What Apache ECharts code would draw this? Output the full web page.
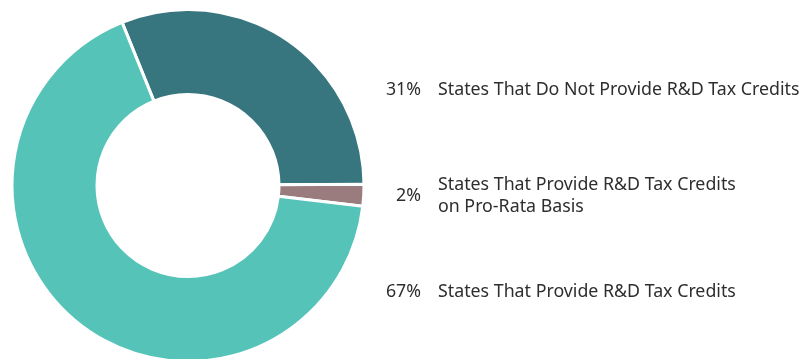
<!DOCTYPE html>
<html>
<head>
<meta charset="utf-8">
<style>
  html, body { margin: 0; padding: 0; background: #fff; }
  #chart { width: 809px; height: 359px; }
</style>
<script src="https://cdn.jsdelivr.net/npm/echarts@6/dist/echarts.min.js"></script>
</head>
<body>
<div id="chart"></div>
<script>
// Share of states by R&D tax credit treatment
const categories = [
  'States That Do Not Provide R&D Tax Credits',
  'States That Provide R&D Tax Credits\non Pro-Rata Basis',
  'States That Provide R&D Tax Credits'
];
const shares = [31, 2, 67];
const colors = ['#37767F', '#9A7C7F', '#55C3B8'];

const FONT = '"Noto Sans", "Open Sans", sans-serif';
const TEXT_COLOR = '#2e2e2e';
const FONT_SIZE = 17.8;
const LINE_H = 22;
// vertical centre of each label block
const labelCenters = [90, 196, 292];

const chart = echarts.init(document.getElementById('chart'), null, { renderer: 'canvas' });

const legends = [];
categories.forEach((name, i) => {
  const lines = name.split('\n').length;
  const cy = labelCenters[i];
  // percentage column
  legends.push({
    data: [name],
    left: 376,
    top: cy - LINE_H / 2,
    padding: 0,
    icon: 'none',
    itemWidth: 0,
    itemHeight: 1,
    selectedMode: false,
    formatter: () => '{p|' + shares[i] + '%}',
    textStyle: {
      lineHeight: LINE_H,
      rich: {
        p: { width: 40, height: LINE_H, align: 'right', fontFamily: FONT, fontSize: FONT_SIZE, color: TEXT_COLOR, lineHeight: LINE_H }
      }
    }
  });
  // category name column
  legends.push({
    data: [name],
    left: 433,
    top: cy - (LINE_H * lines) / 2,
    padding: 0,
    icon: 'none',
    itemWidth: 0,
    itemHeight: 1,
    selectedMode: false,
    textStyle: { fontFamily: FONT, fontSize: FONT_SIZE, color: TEXT_COLOR, lineHeight: LINE_H }
  });
});

chart.setOption({
  animation: false,
  legend: legends,
  series: [{
    type: 'pie',
    center: [188, 185.5],
    radius: [91, 176],
    startAngle: 112,
    clockwise: true,
    silent: true,
    label: { show: false },
    labelLine: { show: false },
    itemStyle: { borderColor: '#ffffff', borderWidth: 3 },
    data: categories.map((name, i) => ({
      name,
      value: shares[i],
      itemStyle: { color: colors[i] }
    }))
  }]
});
</script>
</body>
</html>
